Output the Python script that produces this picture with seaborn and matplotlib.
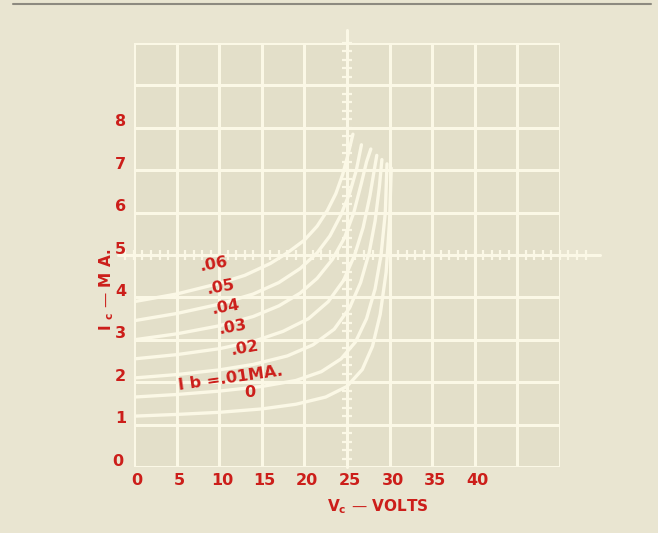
import numpy as np
import pandas as pd
import seaborn as sns
import matplotlib.pyplot as plt

# collector curves: Vc in volts, Ic in mA, one pair per base current
ib_names = [".06", ".05", ".04", ".03", ".02", ".01", "0"]

vc_06 = [0, 5, 10, 13, 16, 18, 20, 21.5, 22.7, 23.7, 24.5, 25.1, 25.7]
ic_06 = [3.9, 4.08, 4.33, 4.52, 4.8, 5.05, 5.35, 5.68, 6.05, 6.45, 6.9, 7.35, 7.85]
vc_05 = [0, 5, 10, 14, 17, 19.5, 21.5, 23, 24.3, 25.3, 26.1, 26.7]
ic_05 = [3.45, 3.62, 3.84, 4.08, 4.35, 4.68, 5.05, 5.45, 5.95, 6.45, 7.0, 7.6]
vc_04 = [0, 5, 10, 14, 17, 19.5, 21.5, 23.3, 24.7, 25.8, 26.7, 27.3, 27.8]
ic_04 = [3.0, 3.14, 3.33, 3.55, 3.8, 4.1, 4.45, 4.9, 5.4, 6.0, 6.7, 7.2, 7.5]
vc_03 = [0, 5, 10, 14, 17.5, 20.5, 22.8, 24.6, 25.9, 26.9, 27.7, 28.2, 28.5]
ic_03 = [2.55, 2.65, 2.79, 2.96, 3.2, 3.5, 3.9, 4.4, 5.0, 5.65, 6.4, 7.0, 7.35]
vc_02 = [0, 5, 10, 14, 18, 21, 23.5, 25.3, 26.6, 27.6, 28.3, 28.8, 29.1]
ic_02 = [2.1, 2.18, 2.29, 2.42, 2.62, 2.88, 3.25, 3.75, 4.35, 5.05, 5.8, 6.6, 7.25]
vc_01 = [0, 5, 10, 15, 19, 22, 24.3, 26, 27.3, 28.3, 29, 29.5, 29.7]
ic_01 = [1.65, 1.71, 1.79, 1.9, 2.04, 2.25, 2.55, 2.95, 3.5, 4.2, 5.0, 6.0, 7.15]
vc_00 = [0, 5, 10, 15, 19, 22.5, 25, 26.8, 28, 28.9, 29.6, 30, 30.2]
ic_00 = [1.2, 1.24, 1.29, 1.37, 1.48, 1.65, 1.9, 2.3, 2.85, 3.6, 4.6, 5.8, 7.05]

x_ticks = [0, 5, 10, 15, 20, 25, 30, 35, 40]
y_ticks = [0, 1, 2, 3, 4, 5, 6, 7, 8]

# where the hand lettering of each curve sits (Vc, Ic, rotation)
lab_text = [".06", ".05", ".04", ".03", ".02", "I b =.01MA.", "0"]
lab_vc = [9.4, 10.2, 10.8, 11.6, 13.0, 11.3, 13.6]
lab_ic = [4.78, 4.25, 3.78, 3.3, 2.8, 2.1, 1.75]
lab_rot = [10, 10, 10, 10, 10, 8, 0]

curves = [(vc_06, ic_06), (vc_05, ic_05), (vc_04, ic_04), (vc_03, ic_03),
          (vc_02, ic_02), (vc_01, ic_01), (vc_00, ic_00)]
rows = []
for name, (vc, ic) in zip(ib_names, curves):
    for v, i in zip(vc, ic):
        rows.append({"ib": name, "vc": v, "ic": i})
df = pd.DataFrame(rows)

bg = "#e9e5d1"
face = "#e3dfc9"
line_c = "#fbf8e6"
red = "#cc1e1a"

sns.set_style("white", {"axes.facecolor": face, "figure.facecolor": bg})
plt.rcParams["font.family"] = ["DejaVu Sans"]

fig = plt.figure(figsize=(6.58, 5.33), dpi=100)
ax = fig.add_axes([0.2036, 0.1238, 0.6474, 0.7955])
ax.set_xlim(0, 50)
ax.set_ylim(0, 10)

# graticule
for v in range(0, 55, 5):
    ax.axvline(v, color=line_c, lw=2.2, zorder=1)
for i in range(0, 11):
    ax.axhline(i, color=line_c, lw=2.2, zorder=1)

# center lines with the small scope ticks
ax.plot([-1.9, 54.7], [5, 5], color=line_c, lw=2.2, clip_on=False, zorder=2)
tx = np.arange(-1, 54, 1.0)
ax.plot(tx, np.full_like(tx, 5), ls="none", marker="|", ms=7, mew=1.6,
        color=line_c, clip_on=False, zorder=2)
ax.plot([25, 25], [0, 10.3], color=line_c, lw=2.2, clip_on=False, zorder=2)
ty = np.arange(0.2, 10.2, 0.2)
ax.plot(np.full_like(ty, 25), ty, ls="none", marker="_", ms=7, mew=1.6,
        color=line_c, clip_on=False, zorder=2)

sns.lineplot(data=df, x="vc", y="ic", hue="ib", palette=[line_c] * 7,
             estimator=None, legend=False, lw=2.4, ax=ax, zorder=3,
             solid_joinstyle="round", solid_capstyle="round")

for s in ax.spines.values():
    s.set_visible(False)
ax.set_xticks([])
ax.set_yticks([])
ax.set_xlabel("")
ax.set_ylabel("")

fs = 11.5
for v in x_ticks:
    ax.text(v + 0.35, -0.32, str(v), color=red, fontsize=fs, fontweight="bold",
            ha="center", va="center", clip_on=False)
for i in y_ticks:
    ax.text(-1.55 if i else -1.9, i + 0.14, str(i), color=red, fontsize=fs,
            fontweight="bold", ha="center", va="center", clip_on=False)

ax.text(28.6, -0.93, "V$_\\mathbf{c}$ \u2014 VOLTS", color=red, fontsize=11,
        fontweight="bold", ha="center", va="center", clip_on=False)
ax.text(-3.25, 4.17, "I $_\\mathbf{c}$ \u2014 M A.", color=red, fontsize=11,
        fontweight="bold", ha="center", va="center", rotation=90, clip_on=False)

for t, v, i, r in zip(lab_text, lab_vc, lab_ic, lab_rot):
    ax.text(v, i, t, color=red, fontsize=fs, fontweight="bold",
            ha="center", va="center", rotation=r, zorder=4)

# dark scan edge along the top
fig.add_artist(plt.Line2D([0.02, 0.99], [0.993, 0.993], color="#8d8a80", lw=1.5))

fig.savefig("out.png", dpi=100, facecolor=bg)
